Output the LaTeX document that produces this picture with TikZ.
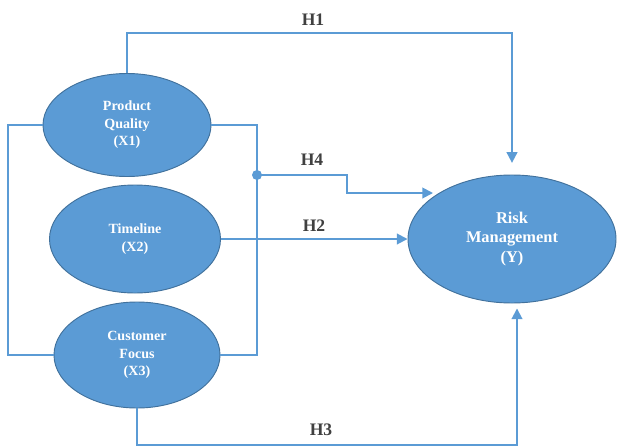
\documentclass[tikz,border=0pt]{standalone}
\usepackage{fontspec}
\setmainfont{Liberation Serif}
\usetikzlibrary{positioning, arrows.meta, shapes.geometric}
\definecolor{ellfill}{RGB}{91,155,213}
\definecolor{elldraw}{RGB}{65,113,156}
\definecolor{linkblue}{RGB}{91,155,213}
\definecolor{hyptext}{RGB}{64,64,64}
\tikzset{latent/.style={ellipse,draw=elldraw,fill=ellfill,line width=0.8pt,text=white,align=center,
                        font=\fontsize{12}{15}\selectfont\bfseries,inner sep=0pt},
         link/.style={draw=linkblue,line width=1.6pt},
         arr/.style={link,-{Triangle[length=3.2mm,width=3.2mm]}},
         hyp/.style={text=hyptext,font=\fontsize{15}{18}\selectfont\bfseries},
        }

\begin{document}
\begin{tikzpicture}[x=0.03cm,y=-0.03cm]
        \useasboundingbox (0,0) rectangle (618,447);

        \node[latent,minimum width=5.04cm,minimum height=3.09cm](x1)at(127,125){Product\\Quality\\(X1)};
        \node[latent,minimum width=5.13cm,minimum height=3.24cm](x2)at(135,239){Timeline\\(X2)};
        \node[latent,minimum width=4.98cm,minimum height=3.18cm](x3)at(137,355){Customer\\Focus\\(X3)};
        \node[latent,minimum width=6.24cm,minimum height=3.84cm,font=\fontsize{14}{17}\selectfont\bfseries](y)at(512,239){Risk\\Management\\(Y)};

        \coordinate(lb)at(8,355);
        \coordinate(rb)at(257,355);
        \coordinate(dot)at(257,175);
        \coordinate(h1c)at(512,33);
        \coordinate(h4k)at(347,175);
        \coordinate(h4t)at(433,193);
        \coordinate(h3c)at(517,445);

        \node[hyp](h1)at(313,20){H1};
        \node[hyp](h4)at(312,160){H4};
        \node[hyp](h2)at(314,226){H2};
        \node[hyp](h3)at(321,430){H3};

        \draw[link](x1.west)-|(lb)--(x3.west);
        \draw[link](x1.east)-|(rb)--(x3.east);
        \fill[linkblue](dot)circle(5);

        \draw[arr,shorten >=3.5mm](x1.north)|-(h1c)--(y.north);
        \draw[arr](dot)--(h4k)|-(h4t);
        \draw[arr](x2.east)--(y.west);
        \draw[arr,shorten >=1.5mm](x3.south)|-(h3c)--(h3c|-y.south);
    \end{tikzpicture}
\end{document}
